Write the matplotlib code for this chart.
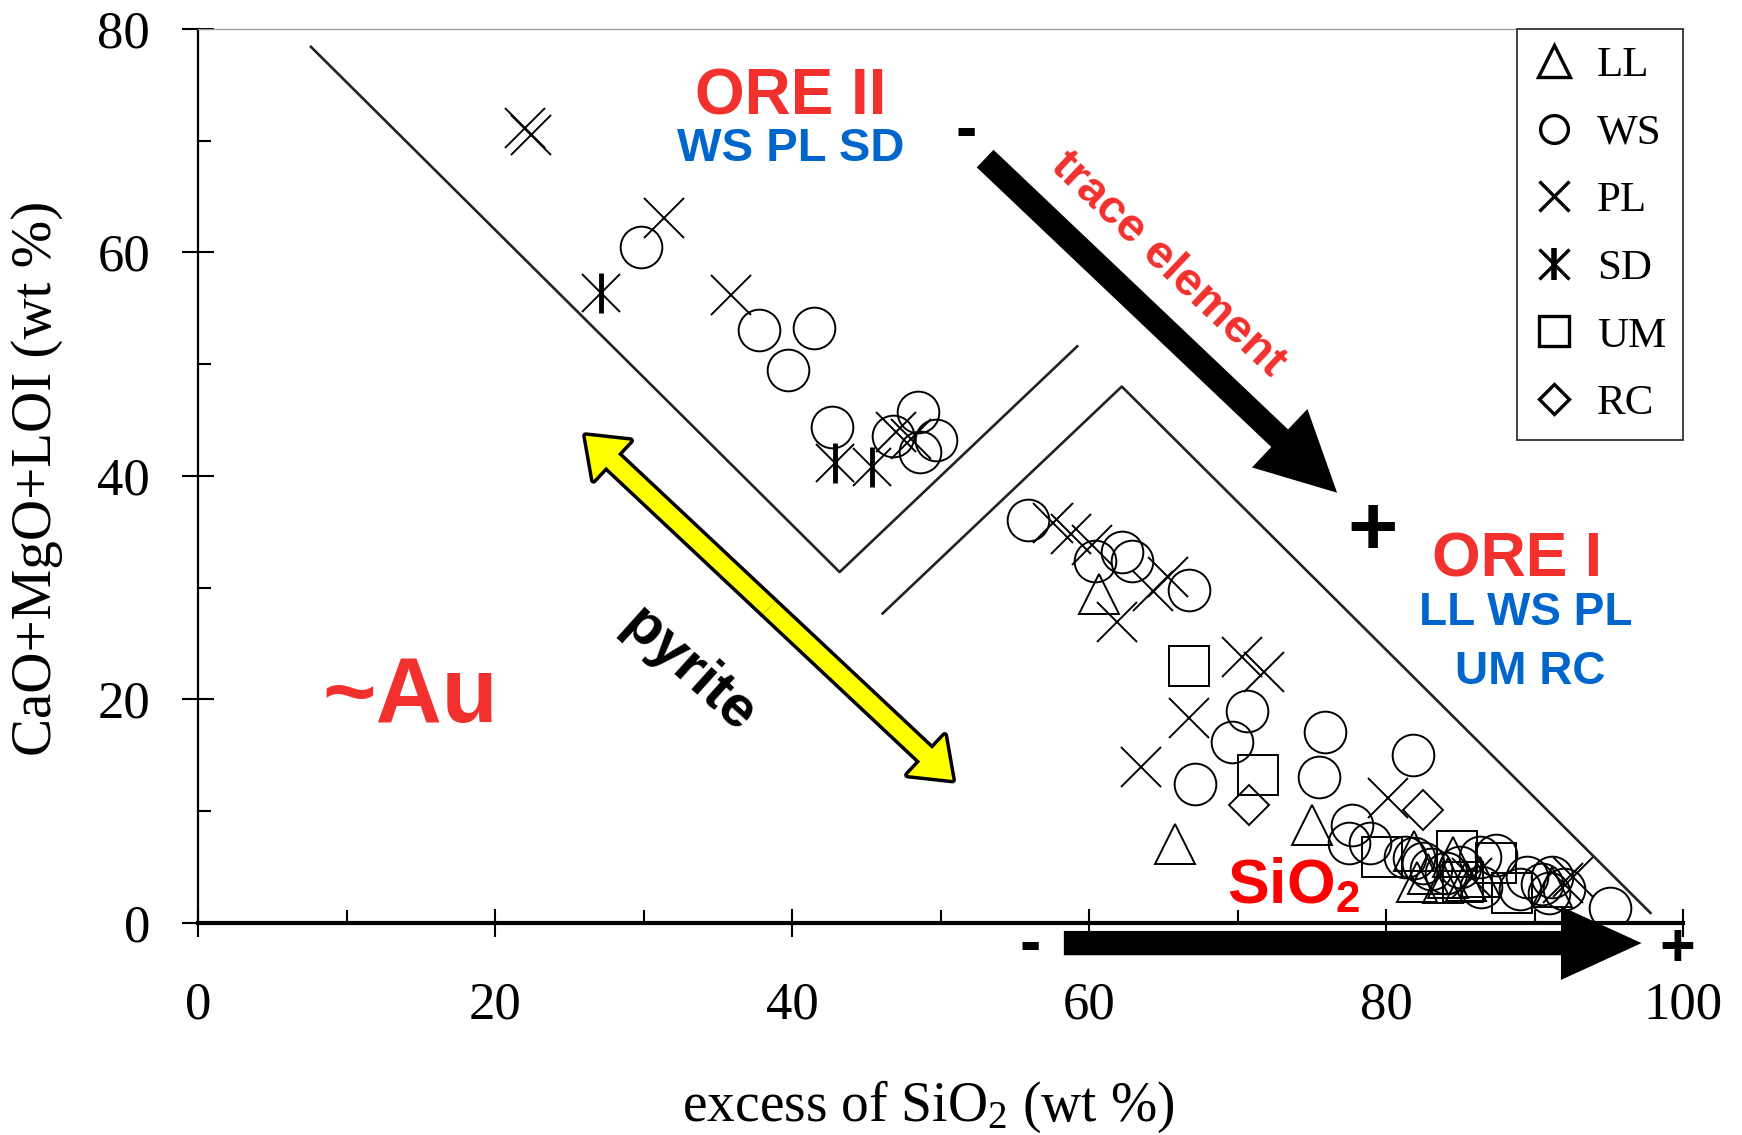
import matplotlib
matplotlib.use('Agg')
import matplotlib.pyplot as plt
from matplotlib.lines import Line2D
from matplotlib.legend_handler import HandlerTuple

plt.rcParams['font.family'] = ['Liberation Serif', 'DejaVu Serif']
plt.rcParams['mathtext.fontset'] = 'custom'
plt.rcParams['mathtext.rm'] = 'Liberation Serif'
plt.rcParams['mathtext.it'] = 'Liberation Serif:italic'
plt.rcParams['mathtext.bf'] = 'Liberation Sans:bold'

# ---------------- data ----------------
LL_x = [60.7, 65.8, 75.0, 82.1, 81.9, 84.5, 83.8, 85.4, 86.3, 91.2, 84.2, 82.8]
LL_y = [29.4, 7.1, 8.8, 3.7, 6.4, 5.9, 3.6, 3.8, 4.1, 3.2, 4.0, 4.4]

WS_x = [29.8, 37.8, 41.5, 39.7, 42.7, 46.8, 48.5, 49.7, 48.6,
        55.9, 60.4, 62.2, 62.9, 66.7, 70.6, 69.6, 67.1, 75.9, 75.5, 81.8,
        77.7, 77.5, 78.9, 81.3, 81.9, 82.5, 84.0, 86.3, 87.4, 86.4, 89.5,
        89.0, 91.2, 91.0, 90.5, 92.0, 95.1, 83.0, 85.0]
WS_y = [60.5, 53.1, 53.2, 49.5, 44.4, 43.6, 45.7, 43.2, 42.1,
        36.1, 32.4, 33.2, 32.4, 29.8, 19.0, 16.2, 12.4, 17.1, 13.1, 15.0,
        8.8, 7.2, 7.2, 5.9, 5.8, 5.4, 4.5, 5.9, 6.1, 3.2, 4.1,
        3.0, 4.1, 2.7, 3.5, 3.0, 1.3, 4.8, 5.0]

PL_x = [22.0, 22.4, 31.4, 35.9, 47.0, 48.0,
        57.6, 58.8, 60.2, 61.9, 64.3, 65.3, 63.5, 66.7, 70.3, 71.8, 80.1,
        85.8, 91.9, 92.6]
PL_y = [71.1, 70.5, 63.1, 56.2, 43.9, 43.3,
        35.8, 34.8, 33.8, 26.9, 29.7, 31.0, 14.0, 18.3, 23.8, 22.5, 11.2,
        4.0, 3.6, 4.1]

SD_x = [27.1, 42.9, 45.4]
SD_y = [56.4, 41.2, 40.8]

UM_x = [66.7, 71.4, 79.7, 84.8, 85.2, 87.4, 88.5]
UM_y = [23.0, 13.2, 5.9, 6.4, 3.7, 5.4, 2.7]

RC_x = [70.8, 82.5]
RC_y = [10.6, 10.1]

# field boundaries
ore2_line_x = [7.6, 43.2, 59.2]
ore2_line_y = [78.4, 31.4, 51.6]
ore1_line_x = [46.1, 62.2, 97.8]
ore1_line_y = [27.7, 48.0, 0.9]

legend_labels = ['LL', 'WS', 'PL', 'SD', 'UM', 'RC']
x_ticks = [0, 20, 40, 60, 80, 100]
y_ticks = [0, 20, 40, 60, 80]

RED = '#F2302D'
BLUE = '#0066CC'

# ---------------- figure ----------------
fig = plt.figure(figsize=(17.42, 11.35), dpi=100)
ax = fig.add_axes([0.1137, 0.1868, 0.8525, 0.7877])
ax.set_xlim(0, 100)
ax.set_ylim(0, 80)

ax.plot(ore2_line_x, ore2_line_y, color='#222222', lw=1.9, zorder=2)
ax.plot(ore1_line_x, ore1_line_y, color='#222222', lw=1.9, zorder=2)

mk = dict(linestyle='none', markerfacecolor='none', markeredgecolor='black',
          markeredgewidth=1.4, zorder=3)
ax.plot(LL_x, LL_y, marker='^', markersize=29, **mk)
ax.plot(WS_x, WS_y, marker='o', markersize=30, **mk)
ax.plot(PL_x, PL_y, marker='x', markersize=29, **mk)
ax.plot(SD_x, SD_y, marker='x', markersize=27, **mk)
ax.plot(SD_x, SD_y, marker='|', markersize=29, linestyle='none',
        markeredgecolor='black', markeredgewidth=3.5, zorder=3)
ax.plot(UM_x, UM_y, marker='s', markersize=29, **mk)
ax.plot(RC_x, RC_y, marker='D', markersize=20, **mk)

# ---------------- axes styling ----------------
ax.spines['right'].set_visible(False)
ax.spines['top'].set_color('#9a9a9a')
ax.spines['top'].set_linewidth(0.9)
ax.spines['left'].set_linewidth(1.6)
ax.spines['bottom'].set_linewidth(3.0)

ax.set_xticks(x_ticks)
ax.set_xticks([10, 30, 50, 70, 90], minor=True)
ax.set_yticks(y_ticks)
ax.set_yticks([10, 30, 50, 70], minor=True)
ax.tick_params(axis='x', which='major', direction='inout', length=20, width=1.5,
               labelsize=38, pad=32)
ax.tick_params(axis='x', which='minor', direction='in', length=9.5, width=1.5)
ax.tick_params(axis='y', which='major', direction='inout', length=23, width=1.5,
               labelsize=38, pad=23)
ax.tick_params(axis='y', which='minor', direction='in', length=9.5, width=1.5)

ax.set_xlabel(r'excess of SiO$_2$ (wt %)', fontsize=40, va='center')
ax.xaxis.set_label_coords((928 - 198) / 1485, (923 - 1107) / 894)
ax.set_ylabel('CaO+MgO+LOI (wt %)', fontsize=41, va='center')
ax.yaxis.set_label_coords((37 - 198) / 1485, (923 - 478) / 894)

# ---------------- legend ----------------
lk = dict(linestyle='none', markerfacecolor='none', markeredgecolor='black',
          markeredgewidth=2.4)
h_LL = Line2D([], [], marker='^', markersize=23, **lk)
h_WS = Line2D([], [], marker='o', markersize=20, **lk)
h_PL = Line2D([], [], marker='x', markersize=22, **lk)
h_SD1 = Line2D([], [], marker='x', markersize=21, **lk)
h_SD2 = Line2D([], [], marker='|', markersize=23, linestyle='none',
               markeredgecolor='black', markeredgewidth=4)
h_UM = Line2D([], [], marker='s', markersize=21, **lk)
h_RC = Line2D([], [], marker='D', markersize=15, **lk)
leg = ax.legend([h_LL, h_WS, h_PL, (h_SD1, h_SD2), h_UM, h_RC], legend_labels,
                handler_map={tuple: HandlerTuple(ndivide=1, pad=0)},
                loc='upper right', bbox_to_anchor=(1.0, 1.0), borderaxespad=0,
                fontsize=31, frameon=True, fancybox=False, framealpha=1,
                edgecolor='#333333', handlelength=0.9, handletextpad=0.55,
                labelspacing=0.66, borderpad=0.4)
leg.get_frame().set_linewidth(1.3)

# ---------------- annotations ----------------
sans = ['Liberation Sans', 'DejaVu Sans']
ax.text(39.9, 73.9, 'ORE II', color=RED, fontsize=46, fontweight='bold',
        family=sans, ha='center', va='center')
ax.text(39.9, 69.3, 'WS PL SD', color=BLUE, fontsize=34, fontweight='bold',
        family=sans, ha='center', va='center')
ax.text(88.8, 32.5, 'ORE I', color=RED, fontsize=45, fontweight='bold',
        family=sans, ha='center', va='center')
ax.text(89.4, 27.7, 'LL WS PL', color=BLUE, fontsize=33, fontweight='bold',
        family=sans, ha='center', va='center')
ax.text(89.7, 22.5, 'UM RC', color=BLUE, fontsize=33, fontweight='bold',
        family=sans, ha='center', va='center')
ax.text(14.3, 20.1, '~Au', color=RED, fontsize=66, fontweight='bold',
        family=sans, ha='center', va='center')
ax.text(65.3, 58.9, 'trace element', color=RED, fontsize=34, fontweight='bold',
        family=sans, ha='center', va='center', rotation=-43.5,
        rotation_mode='anchor')
ax.text(33.0, 22.6, 'pyrite', color='black', fontsize=42, fontweight='bold',
        family=sans, ha='center', va='center', rotation=-42,
        rotation_mode='anchor')
ax.text(69.3, 1.8, r'$\mathbf{SiO_2}$', color='#FF0000', fontsize=45,
        ha='left', va='baseline', zorder=6)

# signs
ax.text(51.7, 70.8, '-', color='black', fontsize=46, fontweight='bold',
        family=sans, ha='center', va='center')
ax.text(79.1, 34.9, '+', color='black', fontsize=62, fontweight='bold',
        family=sans, ha='center', va='center')
ax.text(56.0, -2.1, '-', color='black', fontsize=46, fontweight='bold',
        family=sans, ha='center', va='center', clip_on=False)
ax.text(99.6, -2.5, '+', color='black', fontsize=44, fontweight='bold',
        family=sans, ha='center', va='center', clip_on=False)

# trace element arrow
ax.annotate('', xy=(76.7, 38.5), xytext=(53.0, 68.4), annotation_clip=False,
            arrowprops=dict(arrowstyle='simple,head_length=5.7,head_width=5.8,tail_width=1.75',
                            mutation_scale=10, fc='black', ec='black', lw=0,
                            shrinkA=0, shrinkB=0), zorder=5)
# SiO2 arrow
ax.annotate('', xy=(97.2, -1.8), xytext=(58.3, -1.8), annotation_clip=False,
            arrowprops=dict(arrowstyle='simple,head_length=5.8,head_width=5.3,tail_width=1.75',
                            mutation_scale=10, fc='black', ec='black', lw=0,
                            shrinkA=0, shrinkB=0), zorder=5)

# pyrite double arrow (yellow with black outline)
py_a = (26.1, 43.6)
py_b = (50.8, 12.8)
py_c = ((py_a[0] + py_b[0]) / 2, (py_a[1] + py_b[1]) / 2)
sty = 'simple,head_length=2.6,head_width=3.9,tail_width=1.25'
for lw, z in [(5, 4), (0, 4.5)]:
    for end in (py_a, py_b):
        ax.annotate('', xy=end, xytext=py_c, annotation_clip=False,
                    arrowprops=dict(arrowstyle=sty, mutation_scale=10,
                                    fc='#FFFF00', ec='black', lw=lw,
                                    shrinkA=0, shrinkB=0), zorder=z)

fig.savefig('out.png', dpi=100)
